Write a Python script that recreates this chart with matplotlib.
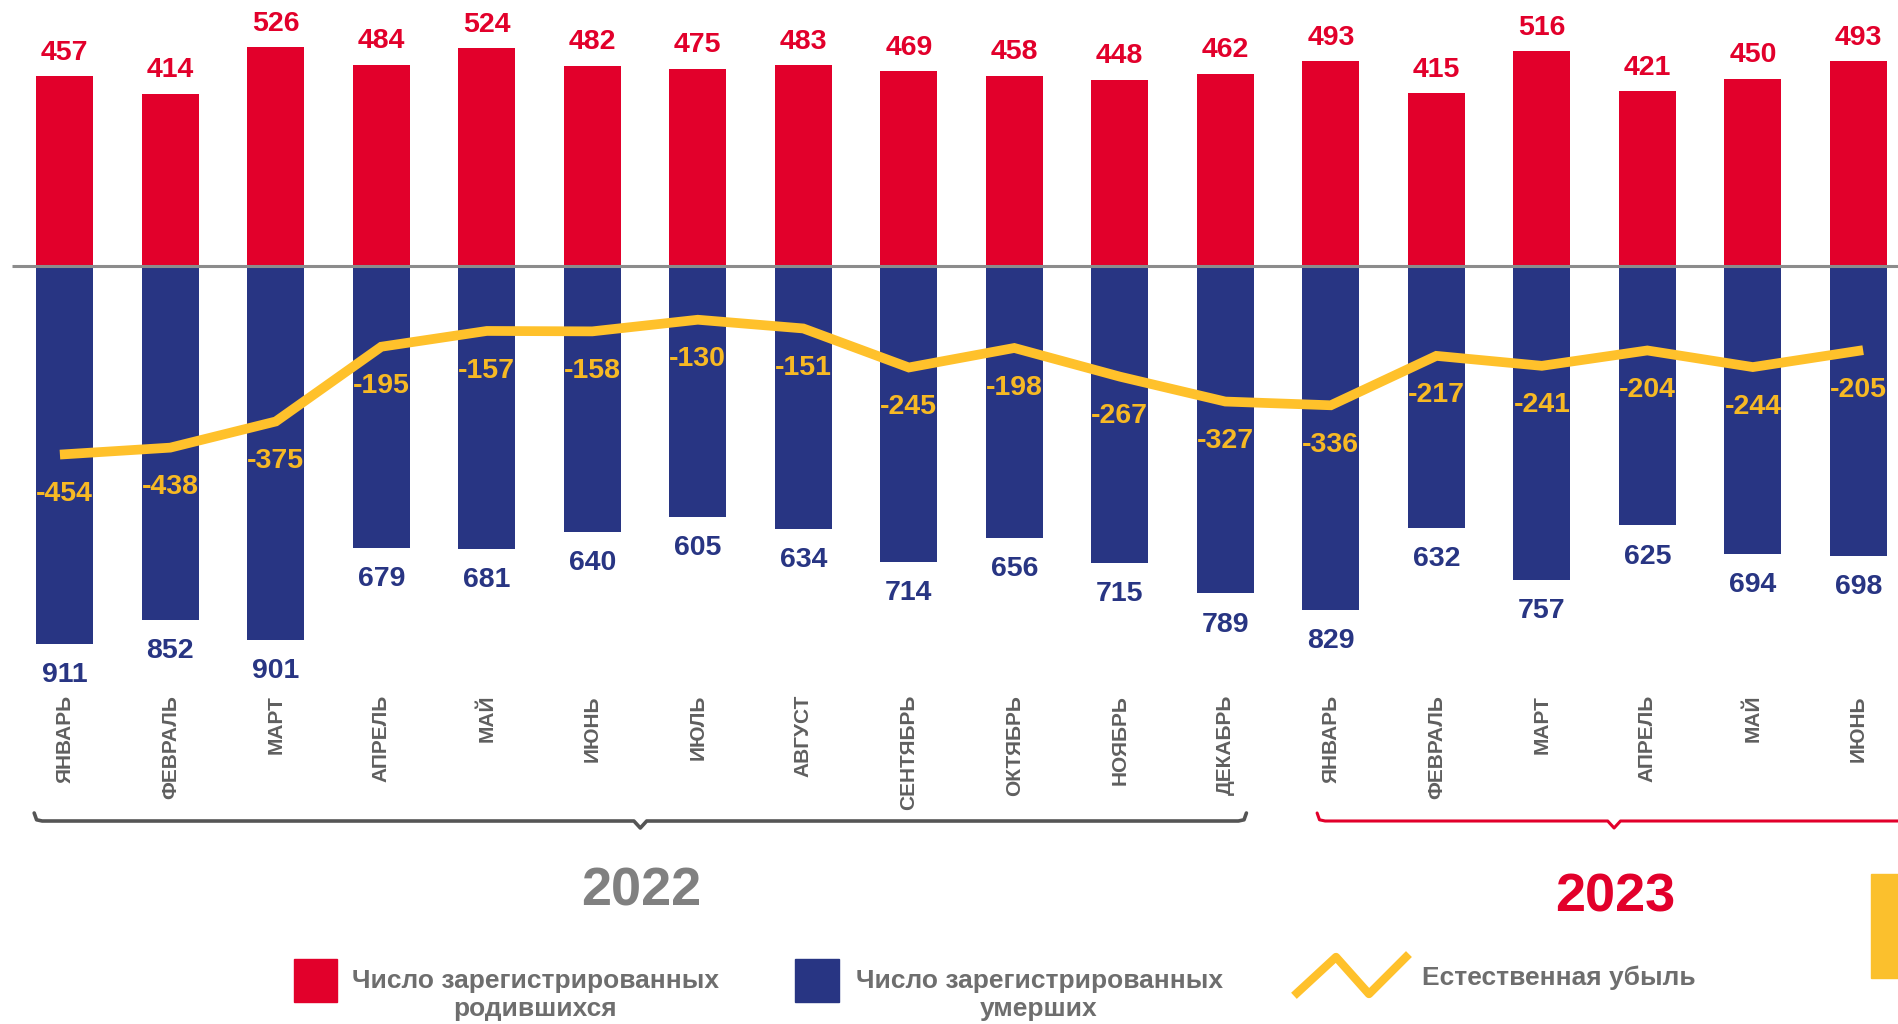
import matplotlib
matplotlib.use("Agg")
from matplotlib import pyplot as plt
from matplotlib.patches import Rectangle
from matplotlib.lines import Line2D
import matplotlib.transforms as mtransforms

plt.rcParams['font.family'] = ['Liberation Sans', 'DejaVu Sans']

months = ['ЯНВАРЬ', 'ФЕВРАЛЬ', 'МАРТ', 'АПРЕЛЬ', 'МАЙ', 'ИЮНЬ', 'ИЮЛЬ', 'АВГУСТ',
          'СЕНТЯБРЬ', 'ОКТЯБРЬ', 'НОЯБРЬ', 'ДЕКАБРЬ',
          'ЯНВАРЬ', 'ФЕВРАЛЬ', 'МАРТ', 'АПРЕЛЬ', 'МАЙ', 'ИЮНЬ']
births = [457, 414, 526, 484, 524, 482, 475, 483, 469, 458, 448, 462,
          493, 415, 516, 421, 450, 493]
deaths = [911, 852, 901, 679, 681, 640, 605, 634, 714, 656, 715, 789,
          829, 632, 757, 625, 694, 698]
natural = [-454, -438, -375, -195, -157, -158, -130, -151, -245, -198, -267, -327,
           -336, -217, -241, -204, -244, -205]
years = ['2022', '2023']

RED = '#E2002B'
BLUE = '#283583'
YELLOW = '#FFC12B'
YEL_TXT = '#F7B924'
GRAY = '#5F5F5F'

W, H = 1898, 1024
fig = plt.figure(figsize=(W / 100, H / 100), dpi=100)
ax = fig.add_axes([0, 0, 1, 1])
ax.set_xlim(-0.614, 17.376)
ax.set_ylim(-1826, 640)
ax.axis('off')

x = list(range(len(months)))
ax.bar(x, births, width=0.54, color=RED, zorder=2)
ax.bar(x, [-d for d in deaths], width=0.54, color=BLUE, zorder=2)
ax.plot([-0.5, 17.376], [0, 0], color='#8C8C8C', lw=2.2, zorder=3, solid_capstyle='butt')
ax.plot(x, natural, color=YELLOW, lw=7, zorder=4, solid_joinstyle='miter')

for i in x:
    ax.annotate(str(births[i]), (i, births[i]), xytext=(0, 7.5), textcoords='offset points',
                ha='center', va='bottom', color=RED, fontsize=20.5, fontweight='bold')
    ax.annotate(str(deaths[i]), (i, -deaths[i]), xytext=(0, -22.5), textcoords='offset points',
                ha='center', va='center', color=BLUE, fontsize=20.5, fontweight='bold')
    ax.annotate(str(natural[i]), (i, natural[i]), xytext=(0, -28.5), textcoords='offset points',
                ha='center', va='center', color=YEL_TXT, fontsize=20.5, fontweight='bold', zorder=5)

# month labels and year braces (x in data, y in figure)
blend = mtransforms.blended_transform_factory(ax.transData, fig.transFigure)


def fy(py):
    return 1 - py / H


for i, m in enumerate(months):
    ax.text(i, fy(695), m, rotation=90, ha='center', va='top', color=GRAY,
            fontsize=15, fontweight='bold', transform=blend)


def brace(x0, x1, color, lw):
    yb = fy(821)
    up = 8 / H
    dn = 7 / H
    dx = 8 / 105.5
    xc = (x0 + x1) / 2
    xs = [x0, x0 + dx * 0.3, x0 + dx, xc - dx * 0.8, xc, xc + dx * 0.8, x1 - dx, x1 - dx * 0.3, x1]
    ys = [yb + up, yb + up * 0.15, yb, yb, yb - dn, yb, yb, yb + up * 0.15, yb + up]
    ax.plot(xs, ys, color=color, lw=lw, transform=blend, clip_on=False, solid_capstyle='round')


brace(-0.29, 11.2, '#555555', 2.6)
brace(11.87, 17.5, RED, 2.2)
ax.text(5.46, fy(892), years[0], ha='center', va='center', color='#808080',
        fontsize=39, fontweight='bold', transform=blend)
ax.text(14.7, fy(897), years[1], ha='center', va='center', color=RED,
        fontsize=39, fontweight='bold', transform=blend)

# legend
LEG_TXT = '#6E6E6E'
fig.patches.append(Rectangle((294 / W, fy(1002)), 43 / W, 43 / H, color=RED,
                             transform=fig.transFigure, figure=fig))
fig.patches.append(Rectangle((795 / W, fy(1002)), 44 / W, 43 / H, color=BLUE,
                             transform=fig.transFigure, figure=fig))
fig.text(535 / W, fy(995), 'Число зарегистрированных\nродившихся', ha='center', va='center',
         color=LEG_TXT, fontsize=19, fontweight='bold', linespacing=1.2)
fig.text(1039 / W, fy(995), 'Число зарегистрированных\nумерших', ha='center', va='center',
         color=LEG_TXT, fontsize=19, fontweight='bold', linespacing=1.2)
zx = [1297, 1336, 1369, 1406]
zy = [993, 957, 994, 957]
fig.lines.append(Line2D([v / W for v in zx], [fy(v) for v in zy], color=YELLOW, lw=6,
                        transform=fig.transFigure, figure=fig))
fig.text(1422 / W, fy(978), 'Естественная убыль', ha='left', va='center',
         color=LEG_TXT, fontsize=19, fontweight='bold')

# yellow slide accent at right edge
fig.patches.append(Rectangle((1871 / W, fy(978)), 27 / W, 104 / H, color='#FBC02D',
                             transform=fig.transFigure, figure=fig))

fig.savefig('out.png', dpi=100)
